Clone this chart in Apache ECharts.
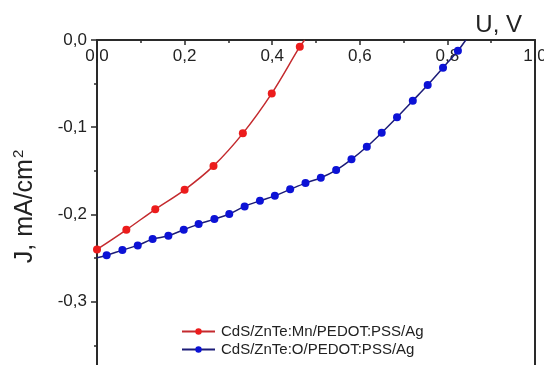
<!DOCTYPE html>
<html>
<head>
<meta charset="utf-8">
<script src="https://cdn.jsdelivr.net/npm/echarts@6/dist/echarts.min.js"></script>
<style>
html,body{margin:0;padding:0;background:#fff;width:544px;height:365px;overflow:hidden;}
#chart{width:544px;height:389px;}
</style>
</head>
<body>
<div id="chart"></div>
<script>
// Series names
const seriesNames = ['CdS/ZnTe:Mn/PEDOT:PSS/Ag', 'CdS/ZnTe:O/PEDOT:PSS/Ag'];

// Red series (Mn): voltage (V) and current density (mA/cm^2)
const mnU = [0, 0.067, 0.133, 0.200, 0.266, 0.333, 0.399, 0.463, 0.474];
const mnJ = [-0.240, -0.2175, -0.194, -0.1717, -0.1443, -0.107, -0.0612, -0.0077, 0];
const mnMarker = [1, 1, 1, 1, 1, 1, 1, 1, 0];

// Blue series (O)
const oU = [0, 0.022, 0.058, 0.093, 0.127, 0.163, 0.198, 0.232, 0.268, 0.302, 0.337, 0.372, 0.406,
            0.441, 0.476, 0.511, 0.546, 0.581, 0.616, 0.650, 0.685, 0.721, 0.755, 0.790, 0.824, 0.842];
const oJ = [-0.2495, -0.2466, -0.2408, -0.2354, -0.2282, -0.2244, -0.2175, -0.2110, -0.2053, -0.1995,
            -0.1907, -0.1843, -0.1786, -0.1712, -0.1640, -0.1579, -0.1491, -0.1368, -0.1224, -0.1063,
            -0.0886, -0.0696, -0.0516, -0.0318, -0.0123, 0];
const oMarker = [0, 1, 1, 1, 1, 1, 1, 1, 1, 1, 1, 1, 1, 1, 1, 1, 1, 1, 1, 1, 1, 1, 1, 1, 1, 0];

// Axis ticks
const xTicks = [0, 0.2, 0.4, 0.6, 0.8, 1.0];
const yTicks = [0, -0.1, -0.2, -0.3, -0.4];

function build(u, j, m) {
  return u.map((x, i) => m[i] ? [x, j[i]] : {value: [x, j[i]], symbol: 'none'});
}
const fmt = v => (Math.abs(v) < 1e-9 ? 0 : v).toFixed(1).replace('.', ',');

const chart = echarts.init(document.getElementById('chart'));
const font = 'Liberation Sans, Arial, sans-serif';
const axisColor = '#2a2a2a';

chart.setOption({
  animation: false,
  backgroundColor: '#fff',
  textStyle: {fontFamily: font},
  grid: {left: 97, right: 9, top: 40, bottom: 0, outerBoundsMode: 'none', containLabel: false, show: false},
  xAxis: {
    type: 'value', position: 'top', min: xTicks[0], max: xTicks[xTicks.length - 1], interval: 0.2,
    name: 'U, V', nameLocation: 'end', nameGap: -13,
    nameTextStyle: {fontFamily: font, fontSize: 24, color: '#222', align: 'right', verticalAlign: 'bottom', padding: [0, 0, 3, 0]},
    axisLine: {show: true, lineStyle: {color: axisColor, width: 2}},
    axisTick: {show: true, inside: true, length: 5, lineStyle: {color: axisColor, width: 1.5}},
    minorTick: {show: true, splitNumber: 2, length: 3, lineStyle: {color: axisColor, width: 1.5}},
    axisLabel: {inside: true, margin: 8, fontFamily: font, fontSize: 17, color: '#222', formatter: fmt, showMaxLabel: true},
    splitLine: {show: false}
  },
  yAxis: [{
    type: 'value', min: yTicks[yTicks.length - 1], max: yTicks[0], interval: 0.1,
    name: 'J, mA/cm{sup|2}', nameLocation: 'middle', nameRotate: 90, nameGap: 58,
    nameTextStyle: {fontFamily: font, fontSize: 25, color: '#222', padding: [0, 0, 0, 16],
      rich: {sup: {fontFamily: font, fontSize: 15, color: '#222', verticalAlign: 'top', padding: [0, 0, 13, 1]}}},
    axisLine: {show: true, onZero: false, lineStyle: {color: axisColor, width: 2}},
    axisTick: {show: true, inside: false, length: 6, lineStyle: {color: axisColor, width: 1.5}},
    minorTick: {show: true, splitNumber: 2, length: 3, lineStyle: {color: axisColor, width: 1.5}},
    axisLabel: {margin: 10, fontFamily: font, fontSize: 17, color: '#222', formatter: fmt},
    splitLine: {show: false}
  }, {
    type: 'value', position: 'right', min: yTicks[yTicks.length - 1], max: yTicks[0], interval: 0.1,
    axisLine: {show: true, onZero: false, lineStyle: {color: axisColor, width: 2}},
    axisTick: {show: false}, axisLabel: {show: false}, splitLine: {show: false}
  }],
  legend: {
    orient: 'vertical', left: 176, top: 319,
    itemWidth: 33, itemHeight: 8, itemGap: 3,
    textStyle: {fontFamily: font, fontSize: 15, color: '#222', lineHeight: 15, padding: [0, 0, 0, 1]},
    data: seriesNames
  },
  series: [
    {
      name: seriesNames[0], type: 'line', smooth: 0.35,
      data: build(mnU, mnJ, mnMarker),
      symbol: 'circle', symbolSize: 8,
      itemStyle: {color: '#ec1c1c'},
      lineStyle: {color: '#c42a2e', width: 1.5},
      z: 3
    },
    {
      name: seriesNames[1], type: 'line', smooth: 0.35,
      data: build(oU, oJ, oMarker),
      symbol: 'circle', symbolSize: 8,
      itemStyle: {color: '#0c12d6'},
      lineStyle: {color: '#1c1c78', width: 1.5},
      z: 2
    }
  ]
});
</script>
</body>
</html>
